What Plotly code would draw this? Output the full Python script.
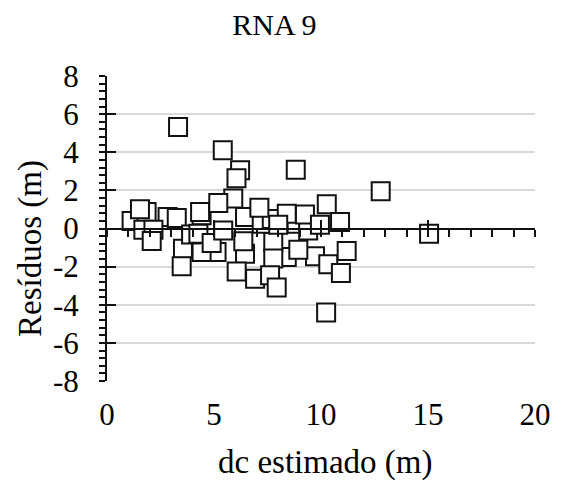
import plotly.graph_objects as go

# Data (dc estimado, residuos)
dc_estimado = [1.15, 1.85, 2.83, 3.55, 4.42, 5.12, 4.42, 5.90, 6.45, 6.45,
               7.23, 7.70, 8.86, 8.40, 9.40, 9.72, 6.22, 8.40,
               1.54, 1.70, 2.17, 2.09, 3.26, 3.49, 3.93, 4.35, 4.27, 4.89,
               5.20, 5.43, 6.37, 6.05, 7.12, 7.77, 7.77, 6.06, 6.92, 7.62,
               7.93, 8.00, 9.25, 8.94, 9.95, 10.27, 10.89, 10.34, 11.20, 10.93,
               3.32, 5.41, 8.82, 12.79, 15.05, 10.24]
residuos = [0.40, 0.87, 0.60, -1.06, 0.69, -1.23, -1.23, 1.57, 0.60, -1.32,
            0.25, 0.50, 0.25, -1.50, -0.10, -1.46, 3.05, 0.78,
            1.01, -0.06, -0.06, -0.65, 0.55, -1.98, -0.32, 0.87, -0.27, -0.76,
            1.34, -0.10, -0.67, 2.64, 1.09, -0.71, -1.58, -2.25, -2.63, -2.45,
            -3.10, 0.20, 0.74, -1.11, 0.20, 1.27, 0.34, -1.88, -1.18, -2.34,
            5.32, 4.10, 3.08, 1.96, -0.28, -4.40]

titulo = "RNA 9"
x_titulo = "dc estimado (m)"
y_titulo = "Resíduos (m)"
x_ticks = [0, 5, 10, 15, 20]
x_ticktext = ["0", "5", "10", "15", "20"]
y_ticks = [-8, -6, -4, -2, 0, 2, 4, 6, 8]
y_ticktext = ["-8", "-6", "-4", "-2", "0", "2", "4", "6", "8"]

FONT = "Times New Roman, Liberation Serif, serif"
fs = 31

fig = go.Figure()
fig.add_trace(go.Scatter(
    x=dc_estimado, y=residuos, mode="markers",
    marker=dict(symbol="square", size=18, color="white",
                line=dict(color="#111111", width=2)),
    showlegend=False, hoverinfo="skip"))

fig.update_layout(
    width=555, height=476,
    margin=dict(l=99, r=28, t=68, b=103, autoexpand=False),
    paper_bgcolor="white", plot_bgcolor="white",
    font=dict(family=FONT, size=fs, color="black"),
    title=dict(text=titulo, x=0.48, xanchor="center", y=0.965, yanchor="middle",
               font=dict(family=FONT, size=30, color="black")),
    xaxis=dict(range=[0, 20], tickvals=x_ticks, ticktext=x_ticktext,
               showline=False, showgrid=False, automargin=False,
               zeroline=False, ticks="", ticklabelstandoff=12,
               tickfont=dict(family=FONT, size=fs)),
    xaxis2=dict(range=[0, 20], overlaying="x", anchor="free", position=0.5,
                showline=True, linecolor="#111111", linewidth=2,
                ticks="outside", ticklen=7, tickwidth=2, tickcolor="#111111",
                dtick=5, tick0=0, showticklabels=False, showgrid=False, zeroline=False,
                automargin=False,
                minor=dict(ticks="outside", ticklen=7, tickwidth=1.5,
                           tickcolor="#111111", dtick=1, showgrid=False)),
    xaxis3=dict(range=[0, 20], overlaying="x", anchor="free", position=0.5,
                showline=False, ticks="inside", ticklen=9, tickwidth=2,
                tickcolor="#111111", dtick=5, tick0=0, showticklabels=False,
                showgrid=False, zeroline=False, automargin=False),
    yaxis=dict(range=[-8, 8], tickvals=y_ticks, ticktext=y_ticktext,
               showline=True, linecolor="#111111", automargin=False,
               linewidth=2, ticks="outside", ticklen=6, tickwidth=2,
               tickcolor="#111111", showgrid=True, gridcolor="#d9d9d9", gridwidth=1.5,
               zeroline=False, ticklabelstandoff=14,
               tickfont=dict(family=FONT, size=fs),
               minor=dict(ticks="outside", ticklen=6, tickwidth=1.5,
                          tickcolor="#111111", dtick=0.4, tick0=0, showgrid=False)),
    yaxis2=dict(range=[-8, 8], overlaying="y", anchor="x", side="left",
                showline=False, ticks="inside", ticklen=9, tickwidth=2,
                tickcolor="#111111", dtick=2, tick0=0, showticklabels=False,
                showgrid=False, zeroline=False, automargin=False),
    annotations=[
        dict(text=y_titulo, xref="paper", yref="paper",
             x=-0.18, y=0.436, xanchor="center", yanchor="middle",
             textangle=-90, showarrow=False,
             font=dict(family=FONT, size=33, color="black")),
        dict(text=x_titulo, xref="paper", yref="paper",
             x=0.509, y=-0.266, xanchor="center", yanchor="middle",
             showarrow=False,
             font=dict(family=FONT, size=33, color="black")),
    ],
)

# invisible traces so the overlay axes are drawn
fig.add_trace(go.Scatter(x=[None], y=[None], xaxis="x2", yaxis="y",
                         showlegend=False, hoverinfo="skip"))
fig.add_trace(go.Scatter(x=[None], y=[None], xaxis="x3", yaxis="y2",
                         showlegend=False, hoverinfo="skip"))

fig.write_html("out.html")
